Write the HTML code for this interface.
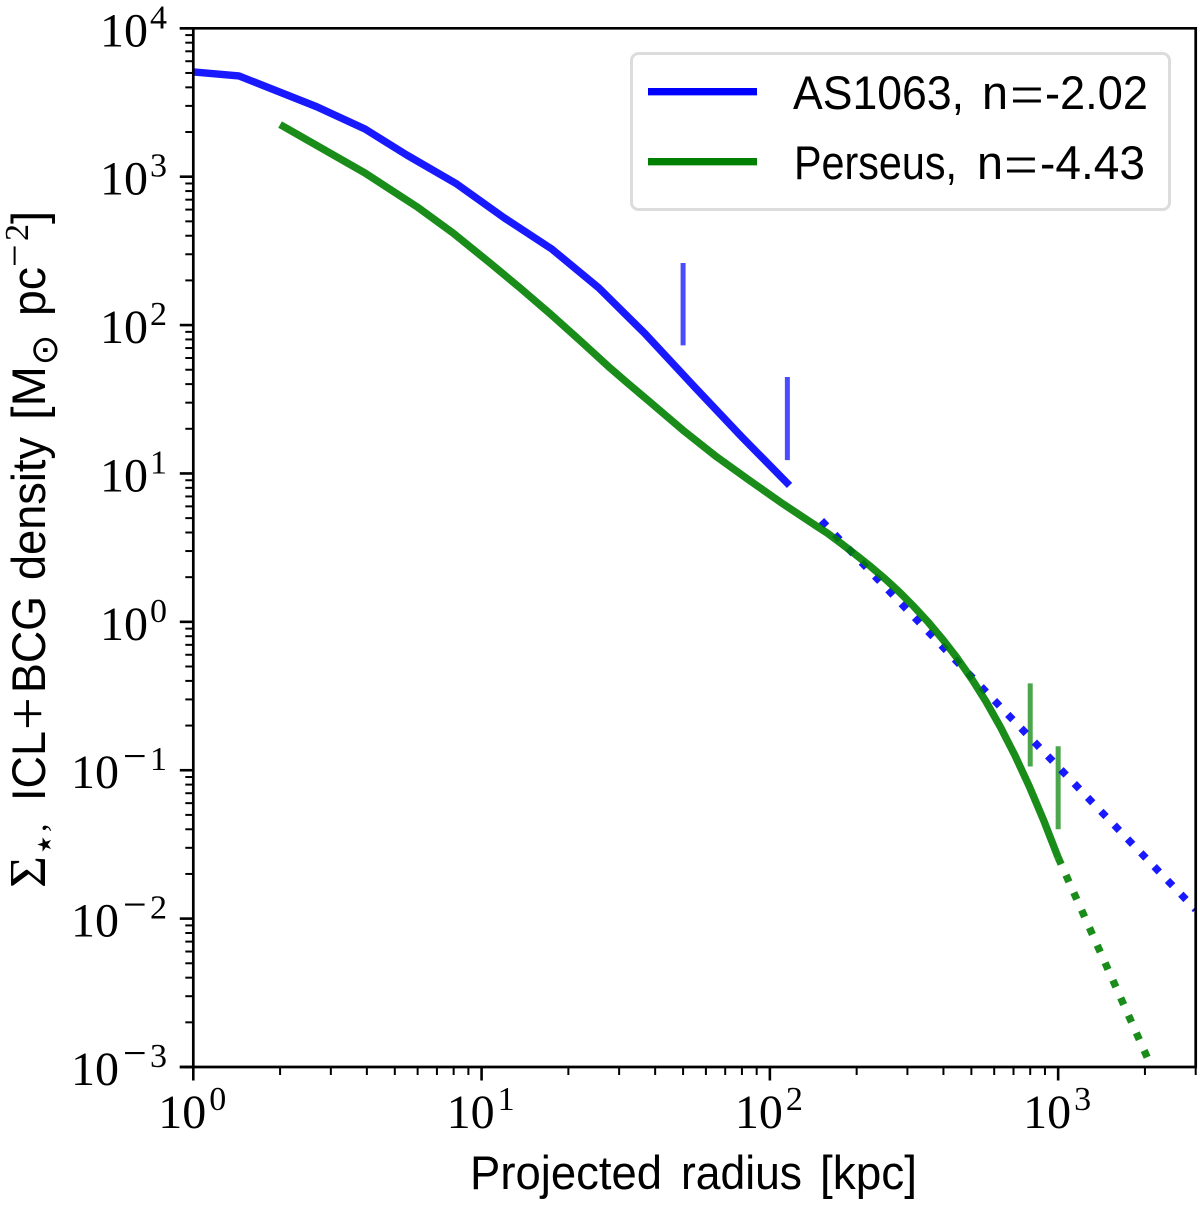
<!DOCTYPE html>
<html>
<head>
<meta charset="utf-8">
<title>ICL+BCG density profiles</title>
<style>
html,body{margin:0;padding:0;background:#fff;width:1200px;height:1206px;overflow:hidden}
svg{display:block}
.sans{font-family:"Liberation Sans",sans-serif;font-size:47px;fill:#000}
.serif{font-family:"Liberation Serif",serif;fill:#000}
</style>
</head>
<body>
<svg id="chart" xmlns="http://www.w3.org/2000/svg" width="1200" height="1206" viewBox="0 0 1200 1206">
  <defs><clipPath id="plot-clip"><rect x="193.3" y="28.3" width="1002.4" height="1038.7"/></clipPath></defs>
  <rect x="193.3" y="28.3" width="1002.4" height="1038.7" fill="#fff"/>
  <g id="marks" clip-path="url(#plot-clip)"></g>
  <g id="axes"></g>

  <g>
    <rect x="631.5" y="53.5" width="538" height="156" rx="7" ry="7" fill="#fff" fill-opacity="0.9" stroke="#dcdcdc" stroke-width="3"/>
    <line x1="648" x2="757" y1="91.7" y2="91.7" stroke="#0000ff" stroke-width="7.4"/>
    <line x1="648" x2="757" y1="161.7" y2="161.7" stroke="#008000" stroke-width="7.4"/>
    <g>
      <text class="sans" x="793" y="109" textLength="171" lengthAdjust="spacingAndGlyphs">AS1063,</text>
      <text class="sans" x="982" y="109" textLength="26" lengthAdjust="spacingAndGlyphs">n</text>
      <text class="serif" font-size="60" x="1010" y="115">=</text>
      <text class="sans" x="1045" y="109" textLength="103" lengthAdjust="spacingAndGlyphs">-2.02</text>
    </g>
    <g>
      <text class="sans" x="794" y="179" textLength="163" lengthAdjust="spacingAndGlyphs">Perseus,</text>
      <text class="sans" x="977" y="179" textLength="26" lengthAdjust="spacingAndGlyphs">n</text>
      <text class="serif" font-size="60" x="1004" y="185">=</text>
      <text class="sans" x="1040" y="179" textLength="105" lengthAdjust="spacingAndGlyphs">-4.43</text>
    </g>
  </g>

  <g>
    <text class="sans" x="470" y="1189" textLength="192" lengthAdjust="spacingAndGlyphs">Projected</text>
    <text class="sans" x="681" y="1189" textLength="121" lengthAdjust="spacingAndGlyphs">radius</text>
    <text class="sans" x="820" y="1189" textLength="97" lengthAdjust="spacingAndGlyphs">[kpc]</text>
  </g>

  <g>
    <text class="serif" font-size="52" transform="translate(45 888) rotate(-90)" textLength="32" lengthAdjust="spacingAndGlyphs">Σ</text>
    <text font-family="'DejaVu Sans',sans-serif" font-size="19" transform="translate(51 853) rotate(-90)">★</text>
    <text class="serif" font-size="34" transform="translate(46 832) rotate(-90)">,</text>
    <text class="sans" transform="translate(45 801) rotate(-90)" textLength="70" lengthAdjust="spacingAndGlyphs">ICL</text>
    <text class="serif" font-size="58" transform="translate(47 730) rotate(-90)">+</text>
    <text class="sans" transform="translate(45 693) rotate(-90)" textLength="97" lengthAdjust="spacingAndGlyphs">BCG</text>
    <text class="sans" transform="translate(45 580) rotate(-90)" textLength="143" lengthAdjust="spacingAndGlyphs">density</text>
    <text class="sans" transform="translate(45 420) rotate(-90)" textLength="54" lengthAdjust="spacingAndGlyphs">[M</text>
    <text font-family="'DejaVu Sans',sans-serif" font-size="37" text-anchor="middle" transform="translate(57 350) rotate(-90)">⊙</text>
    <text class="sans" transform="translate(45 316) rotate(-90)" textLength="49" lengthAdjust="spacingAndGlyphs">pc</text>
    <text class="serif" font-size="40" transform="translate(28 267) rotate(-90)">−</text>
    <text class="serif" font-size="34" transform="translate(28 241) rotate(-90)">2</text>
    <text class="sans" transform="translate(45 224) rotate(-90)">]</text>
  </g>
</svg>
<script>
// ---- data ----
const as1063Radius = [1, 1.44, 2.68, 3.94, 5.5, 8.2, 12, 17.5, 25.5, 37, 55, 80, 117];
const as1063Density = [5080, 4775, 2960, 2095, 1400, 893, 527, 326, 178, 87, 38, 17.6, 8.3];
const as1063FitRadius = [151, 300, 600, 1000, 2000, 3000];
const as1063FitDensity = [4.81, 1.2, 0.296, 0.1055, 0.026, 0.0115];
const perseusRadius = [2, 3.94, 5.96, 7.96, 10.7, 13.6, 17.3, 21.9, 27.9, 32.7, 38.4, 49.9, 65.5, 85.3, 111, 145.6, 158.5, 177.8, 199.5, 223.9, 251.2, 281.8, 316.2, 354.8, 398.1, 446.7, 501.2, 562.3, 631, 707.9, 794.3, 891.3, 1000];
const perseusDensity = [2246, 1059, 628, 417, 262, 178, 119, 79, 51.4, 39.4, 30.3, 19.6, 12.9, 8.93, 6.24, 4.40, 3.954, 3.346, 2.815, 2.355, 1.947, 1.583, 1.265, 0.991, 0.760, 0.569, 0.413, 0.290, 0.195, 0.126, 0.0778, 0.0458, 0.0258];
const perseusFitRadius = [1000, 2200];
const perseusFitDensity = [0.0258, 0.00083];
const as1063MarkerRadius = [50, 115];
const as1063MarkerLow = [73, 12.3];
const as1063MarkerHigh = [262, 44.7];
const perseusMarkerRadius = [800, 1000];
const perseusMarkerLow = [0.106, 0.04];
const perseusMarkerHigh = [0.385, 0.145];
const xExponents = [0, 1, 2, 3];
const yExponents = [4, 3, 2, 1, 0, -1, -2, -3];
const minorMultipliers = [2, 3, 4, 5, 6, 7, 8, 9];

// ---- axis functions ----
const PLOT_LEFT = 193.3, PLOT_RIGHT = 1195.7, PLOT_TOP = 28.3, PLOT_BOTTOM = 1067;
const X_MIN = 1, X_MAX = 3000, Y_MIN = 0.001, Y_MAX = 10000;
function xPos(v) {
  return PLOT_LEFT + (Math.log10(v) - Math.log10(X_MIN)) / (Math.log10(X_MAX) - Math.log10(X_MIN)) * (PLOT_RIGHT - PLOT_LEFT);
}
function yPos(v) {
  return PLOT_BOTTOM - (Math.log10(v) - Math.log10(Y_MIN)) / (Math.log10(Y_MAX) - Math.log10(Y_MIN)) * (PLOT_BOTTOM - PLOT_TOP);
}
const NS = 'http://www.w3.org/2000/svg';
const marks = document.getElementById('marks');
const axes = document.getElementById('axes');

function make(tag, attrs, parent) {
  const el = document.createElementNS(NS, tag);
  for (const k in attrs) el.setAttribute(k, attrs[k]);
  parent.appendChild(el);
  return el;
}
function pathFrom(xs, ys) {
  return xs.map((x, i) => (i ? 'L' : 'M') + xPos(x).toFixed(2) + ' ' + yPos(ys[i]).toFixed(2)).join(' ');
}

// ---- vertical markers ----
function drawMarkers(xs, lows, highs, color, name) {
  xs.forEach((x, i) => {
    const el = make('line', {x1: xPos(x), x2: xPos(x), y1: yPos(lows[i]), y2: yPos(highs[i]), stroke: color, 'stroke-width': 5, 'stroke-opacity': 0.7}, marks);
    
    
  });
}
drawMarkers(as1063MarkerRadius, as1063MarkerLow, as1063MarkerHigh, '#0000ff', 'as1063-radius-marker');
drawMarkers(perseusMarkerRadius, perseusMarkerLow, perseusMarkerHigh, '#008000', 'perseus-radius-marker');

// ---- series ----
function drawLine(xs, ys, color, dash, name) {
  const el = make('path', {d: pathFrom(xs, ys), fill: 'none', stroke: color, 'stroke-width': 7.4, 'stroke-opacity': 0.9, 'stroke-linejoin': 'round', 'stroke-linecap': 'butt'}, marks);
  if (dash) el.setAttribute('stroke-dasharray', dash);
  
  
}
drawLine(as1063Radius, as1063Density, '#0000ff', null, 'as1063-profile-line');
drawLine(as1063FitRadius, as1063FitDensity, '#0000ff', '7.4 11.8', 'as1063-extrapolation-line');
drawLine(perseusFitRadius, perseusFitDensity, '#008000', '7.4 11.8', 'perseus-extrapolation-line');
drawLine(perseusRadius, perseusDensity, '#008000', null, 'perseus-profile-line');

// ---- ticks ----
function tick(x1, y1, x2, y2, w, name) {
  const el = make('line', {x1: x1, y1: y1, x2: x2, y2: y2, stroke: '#000', 'stroke-width': w}, axes);
  
  
}
xExponents.forEach(e => {
  const base = Math.pow(10, e);
  tick(xPos(base), PLOT_BOTTOM, xPos(base), PLOT_BOTTOM + 13.5, 2.6, 'x-major-tick');
  minorMultipliers.forEach(m => {
    const v = m * base;
    if (v <= X_MAX) tick(xPos(v), PLOT_BOTTOM, xPos(v), PLOT_BOTTOM + 8, 2, 'x-minor-tick');
  });
  const px = xPos(base);
  const t = make('text', {x: px - 35, y: 1128, class: 'serif', 'font-size': 48}, axes);
  t.textContent = '10';
  
  
  const s = make('tspan', {x: px + 16, y: 1110, 'font-size': 34}, t);
  s.textContent = String(e);
});
yExponents.forEach(e => {
  const base = Math.pow(10, e);
  const py = yPos(base);
  tick(PLOT_LEFT - 13.5, py, PLOT_LEFT, py, 2.6, 'y-major-tick');
  minorMultipliers.forEach(m => {
    const v = m * base;
    if (v < Y_MAX) tick(PLOT_LEFT - 8, yPos(v), PLOT_LEFT, yPos(v), 2, 'y-minor-tick');
  });
  const t = make('text', {x: e < 0 ? 71 : 100, y: py + 18, class: 'serif', 'font-size': 48}, axes);
  t.textContent = '10';
  
  
  if (e < 0) {
    const minus = make('tspan', {x: 123, y: py, 'font-size': 42}, t);
    minus.textContent = '−';
    const d = make('tspan', {x: 150, y: py, 'font-size': 34}, t);
    d.textContent = String(-e);
  } else {
    const d = make('tspan', {x: 150, y: py, 'font-size': 34}, t);
    d.textContent = String(e);
  }
});

// ---- spines ----
const spineNames = ['left-spine', 'right-spine', 'top-spine', 'bottom-spine'];
const spineEnds = [
  [PLOT_LEFT, PLOT_TOP - 1.3, PLOT_LEFT, PLOT_BOTTOM + 1.3],
  [PLOT_RIGHT, PLOT_TOP - 1.3, PLOT_RIGHT, PLOT_BOTTOM + 1.3],
  [PLOT_LEFT - 13.5, PLOT_TOP, PLOT_RIGHT, PLOT_TOP],
  [PLOT_LEFT - 13.5, PLOT_BOTTOM, PLOT_RIGHT, PLOT_BOTTOM]
];
spineEnds.forEach((c, i) => {
  tick(c[0], c[1], c[2], c[3], 2.7, spineNames[i]);
});
</script>
</body>
</html>
